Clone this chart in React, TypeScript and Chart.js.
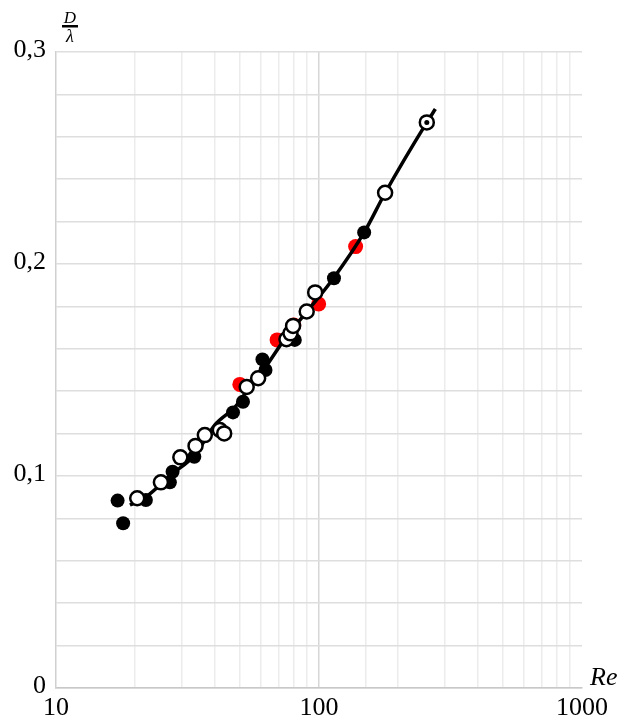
import React, { useEffect, useRef } from "react";
import { Chart, registerables } from "chart.js";

Chart.register(...registerables);

// Black filled points (Re, D/λ)
const blackRe = [17.15, 18.0, 21.97, 27.1, 27.75, 33.57, 47.1, 51.4, 60.95, 62.6, 80.9, 114, 148.5];
const blackVal = [0.0884, 0.0777, 0.0887, 0.097, 0.102, 0.1091, 0.13, 0.135, 0.155, 0.15, 0.1642, 0.1933, 0.2149];

// Open (white) points
const openRe = [20.36, 25.05, 29.7, 33.93, 36.8, 41.97, 43.6, 53.1, 58.7, 75.2, 77.9, 79.7, 89.8, 96.7, 178.4, 257];
const openVal = [0.0895, 0.097, 0.1088, 0.1142, 0.1193, 0.1217, 0.1201, 0.142, 0.1461, 0.1645, 0.1673, 0.1708, 0.1776, 0.1866, 0.2336, 0.2668];

// Red filled points
const redRe = [50.0, 69.3, 80.2, 99.7, 137.8];
const redVal = [0.1432, 0.1642, 0.1712, 0.1811, 0.2082];

// Dotted point (open circle with centre dot)
const dotRe = [257];
const dotVal = [0.2668];

// Fitted curve
const curveRe = [19.1, 21.97, 27.6, 33.7, 40.2, 47.9, 53.6, 62.2, 75.4, 89.8, 113.7, 148.5, 178.4, 257, 277];
const curveVal = [0.0863, 0.0901, 0.1009, 0.1099, 0.1241, 0.1325, 0.1406, 0.1509, 0.166, 0.1774, 0.1934, 0.2149, 0.2335, 0.2668, 0.2731];

// Axis ticks
const xMin = 10;
const xMax = 1000;
const yMin = 0;
const yMax = 0.3;
const yStep = 0.02;
const yLabeled = [0, 0.1, 0.2, 0.3];

const pts = (xs: number[], ys: number[]) => xs.map((x, i) => ({ x, y: ys[i] }));

const SERIF = "'Liberation Serif', 'DejaVu Serif', serif";

const labelsPlugin = {
  id: "extraLabels",
  afterDraw(chart: any) {
    const { ctx, chartArea } = chart;
    ctx.save();
    ctx.fillStyle = "#000";
    // D / λ fraction
    ctx.font = `italic 17px ${SERIF}`;
    ctx.textAlign = "center";
    ctx.textBaseline = "alphabetic";
    const cx = chartArea.left + 14;
    ctx.fillText("D", cx, chartArea.top - 29);
    ctx.fillRect(cx - 8, chartArea.top - 27, 16, 2.5);
    ctx.font = `italic 18px ${SERIF}`;
    ctx.fillText("λ", cx, chartArea.top - 10);
    // Re
    ctx.font = `italic 26px ${SERIF}`;
    ctx.textAlign = "left";
    ctx.fillText("Re", chartArea.right + 8, chartArea.bottom - 3);
    ctx.restore();
  },
};

export default function App() {
  const ref = useRef<HTMLCanvasElement | null>(null);
  useEffect(() => {
    if (!ref.current) return;
    const chart = new Chart(ref.current, {
      type: "scatter",
      data: {
        datasets: [
          {
            label: "dot",
            data: pts(dotRe, dotVal),
            pointRadius: 2.5,
            pointBackgroundColor: "#000",
            pointBorderWidth: 0,
            showLine: false,
          },
          {
            label: "open",
            data: pts(openRe, openVal),
            pointRadius: 7,
            pointBackgroundColor: "#fff",
            pointBorderColor: "#000",
            pointBorderWidth: 2.5,
            showLine: false,
          },
          {
            label: "black",
            data: pts(blackRe, blackVal),
            pointRadius: 7,
            pointBackgroundColor: "#000",
            pointBorderColor: "#000",
            pointBorderWidth: 0,
            showLine: false,
          },
          {
            label: "curve",
            data: pts(curveRe, curveVal),
            showLine: true,
            borderColor: "#000",
            borderWidth: 3.5,
            pointRadius: 0,
            cubicInterpolationMode: "monotone",
          },
          {
            label: "red",
            data: pts(redRe, redVal),
            pointRadius: 7.5,
            pointBackgroundColor: "#ff0000",
            pointBorderWidth: 0,
            showLine: false,
          },
        ],
      },
      options: {
        responsive: false,
        animation: false,
        devicePixelRatio: 1,
        layout: { padding: { top: 52, right: 36, left: 0, bottom: 0 } },
        plugins: { legend: { display: false }, tooltip: { enabled: false } },
        scales: {
          x: {
            type: "logarithmic",
            min: xMin,
            max: xMax,
            border: { display: true, color: "#c8c8c8", width: 1.5 },
            grid: {
              drawTicks: false,
              tickLength: 0,
              lineWidth: 1.5,
              color: (c: any) => {
                const v = c.tick ? c.tick.value : 0;
                if (v === xMax || v === xMin) return "rgba(0,0,0,0)";
                const l = Math.log10(v);
                return Math.abs(l - Math.round(l)) < 1e-9 ? "#d6d6d6" : "#ececec";
              },
            },
            ticks: {
              autoSkip: false,
              maxRotation: 0,
              padding: 5,
              color: "#000",
              font: { family: SERIF, size: 26 },
              callback: (v: any) => {
                const l = Math.log10(Number(v));
                return Math.abs(l - Math.round(l)) < 1e-9 ? String(Math.round(Number(v))) : "";
              },
            },
            afterFit: (s: any) => {
              s.height = 31;
            },
          },
          y: {
            min: yMin,
            max: yMax,
            border: { display: true, color: "#d0d0d0", width: 1.5 },
            grid: {
              drawTicks: false,
              tickLength: 0,
              lineWidth: 1.5,
              color: "#dedede",
            },
            afterBuildTicks: (s: any) => {
              const t = [];
              const n = Math.round((yMax - yMin) / yStep);
              for (let i = 0; i <= n; i++) t.push({ value: +(yMin + i * yStep).toFixed(4) });
              s.ticks = t;
            },
            ticks: {
              autoSkip: false,
              padding: 10,
              labelOffset: -2,
              color: "#000",
              font: { family: SERIF, size: 26 },
              callback: (v: any) => {
                const n = Number(v);
                const hit = yLabeled.find((q) => Math.abs(q - n) < 1e-6);
                if (hit === undefined) return "";
                return hit === 0 ? "0" : String(hit).replace(".", ",");
              },
            },
            afterFit: (s: any) => {
              s.width = 56;
            },
          },
        },
      },
      plugins: [labelsPlugin],
    } as any);
    return () => chart.destroy();
  }, []);
  return (
    <div style={{ position: "absolute", left: 0, top: 0, width: 618, height: 719, background: "#fff" }}>
      <canvas ref={ref} width={618} height={719} />
    </div>
  );
}
